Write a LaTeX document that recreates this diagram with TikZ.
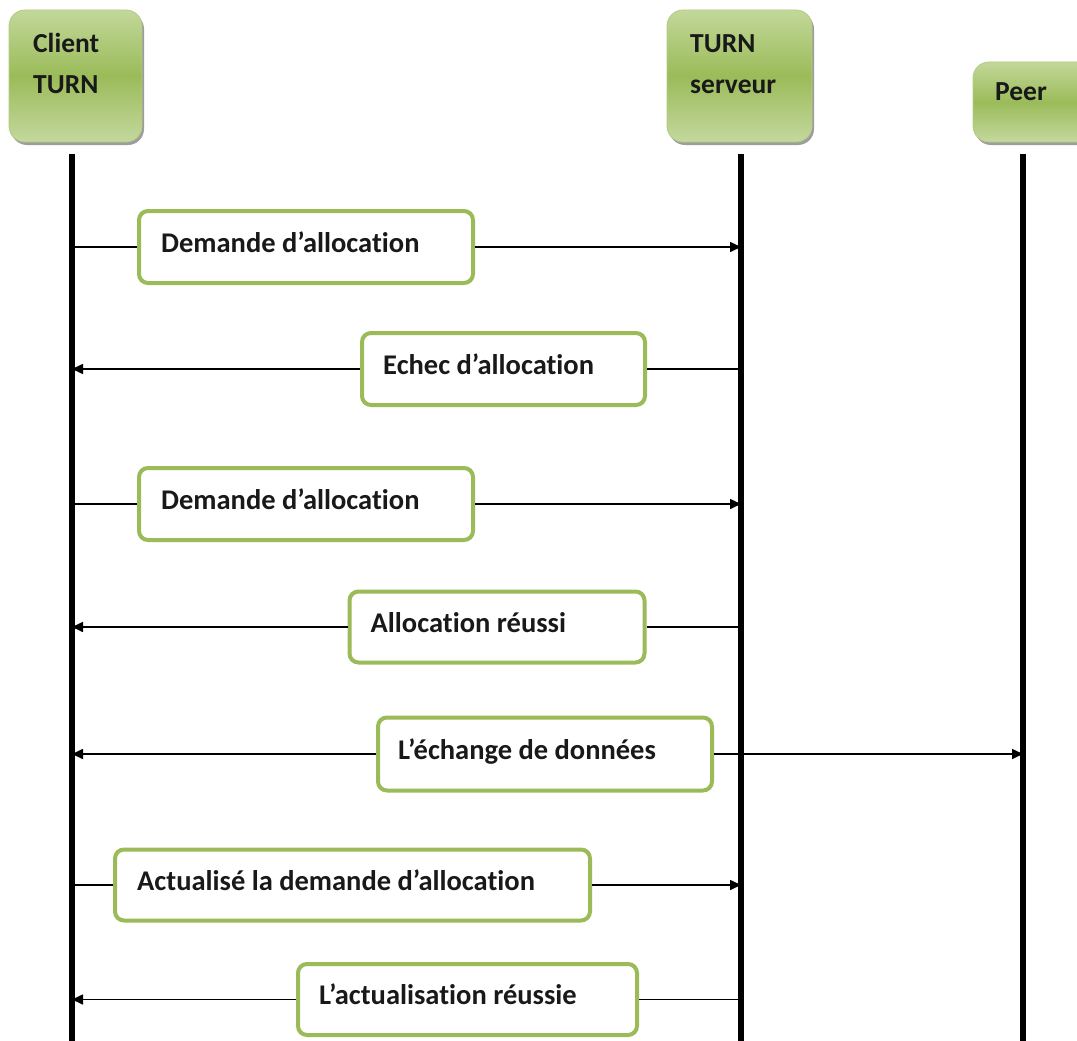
\documentclass[tikz,border=0pt]{standalone}
\usepackage{fontspec}
\setmainfont[Ligatures=NoCommon]{Carlito}
\usetikzlibrary{arrows.meta,shadows}

\definecolor{boxgreen}{HTML}{9BBB59}
\definecolor{headtop}{HTML}{C2D89A}
\definecolor{headmid}{HTML}{9BBB59}
\definecolor{headbot}{HTML}{C4D89E}
\definecolor{headedge}{HTML}{B3CC82}

\tikzset{
  actor/.style={rectangle, rounded corners=16pt, draw=headedge, line width=0.8pt,
    top color=headtop, bottom color=headbot, middle color=headmid,
    drop shadow={shadow xshift=2pt, shadow yshift=-3pt, opacity=0.55, fill=black!70},
    inner sep=0pt},
  actortext/.style={anchor=base west, inner sep=0pt, font=\bfseries\fontsize{27.5}{32}\selectfont, text=black!90},
  msgbox/.style={rectangle, rounded corners=9pt, draw=boxgreen, line width=4pt, fill=white, inner sep=0pt},
  msgtext/.style={anchor=base west, inner sep=0pt, font=\bfseries\fontsize{28.5}{32}\selectfont, text=black!90},
  lifeline/.style={line width=5.5pt, black},
  msgline/.style={line width=1.6pt, black},
  tip/.style={msgline, -{Triangle[length=11pt,width=10pt]}},
}

\begin{document}
\begin{tikzpicture}[x=1pt,y=-1pt]
\useasboundingbox (0,0) rectangle (1077,1041);
\clip (0,0) rectangle (1077,1041);

% participants
\node[actor, minimum width=133pt, minimum height=132pt] (client) at (75.5,76) {};
\node[actor, minimum width=145pt, minimum height=132pt] (server) at (739.5,76) {};
\node[actor, minimum width=140pt, minimum height=80pt] (peer) at (1043,102) {};
\node[actortext] (client1) at (33,53) {Client};
\node[actortext] (client2) at (33,93) {TURN};
\node[actortext] (server1) at (690,53) {TURN};
\node[actortext] (server2) at (690,93) {serveur};
\node[actortext] (peer1) at (995,101) {Peer};

% lifelines
\coordinate (cl) at (72,154);
\coordinate (clb) at (72,1045);
\coordinate (sv) at (741,154);
\coordinate (svb) at (741,1045);
\coordinate (pr) at (1023,154);
\coordinate (prb) at (1023,1045);
\draw[lifeline] (cl) -- (clb);
\draw[lifeline] (sv) -- (svb);
\draw[lifeline] (pr) -- (prb);

% message boxes
\node[msgbox, minimum width=334pt, minimum height=72pt] (m1) at (306,247) {};
\node[msgbox, minimum width=283pt, minimum height=72pt] (m2) at (503.5,369) {};
\node[msgbox, minimum width=334pt, minimum height=72pt] (m3) at (306,504) {};
\node[msgbox, minimum width=295pt, minimum height=71pt] (m4) at (497,627) {};
\node[msgbox, minimum width=334pt, minimum height=73pt] (m5) at (545,754) {};
\node[msgbox, minimum width=475pt, minimum height=71pt] (m6) at (352.5,885) {};
\node[msgbox, minimum width=339pt, minimum height=71pt] (m7) at (467.5,999.5) {};

\node[msgtext] (t1) at ([xshift=24pt,yshift=-5pt]m1.west) {Demande d’allocation};
\node[msgtext] (t2) at ([xshift=23pt,yshift=-5pt]m2.west) {Echec d’allocation};
\node[msgtext] (t3) at ([xshift=24pt,yshift=-5pt]m3.west) {Demande d’allocation};
\node[msgtext] (t4) at ([xshift=23pt,yshift=-5pt]m4.west) {Allocation réussi};
\node[msgtext] (t5) at ([xshift=22pt,yshift=-5pt]m5.west) {L’échange de données};
\node[msgtext] (t6) at ([xshift=24pt,yshift=-5pt]m6.west) {Actualisé la demande d’allocation};
\node[msgtext] (t7) at ([xshift=23pt,yshift=-5pt]m7.west) {L’actualisation réussie};

% connectors
\draw[msgline] (m1.west -| cl) -- (m1.west);
\draw[tip] (m1.east) -- (m1.east -| sv);
\draw[msgline] (m2.east -| sv) -- (m2.east);
\draw[tip] (m2.west) -- (m2.west -| cl);
\draw[msgline] (m3.west -| cl) -- (m3.west);
\draw[tip] (m3.east) -- (m3.east -| sv);
\draw[msgline] (m4.east -| sv) -- (m4.east);
\draw[tip] (m4.west) -- (m4.west -| cl);
\draw[tip] (m5.west) -- (m5.west -| cl);
\draw[tip] (m5.east) -- (m5.east -| pr);
\draw[msgline] (m6.west -| cl) -- (m6.west);
\draw[tip] (m6.east) -- (m6.east -| sv);
\draw[msgline] (m7.east -| sv) -- (m7.east);
\draw[tip] (m7.west) -- (m7.west -| cl);
\end{tikzpicture}
\end{document}
